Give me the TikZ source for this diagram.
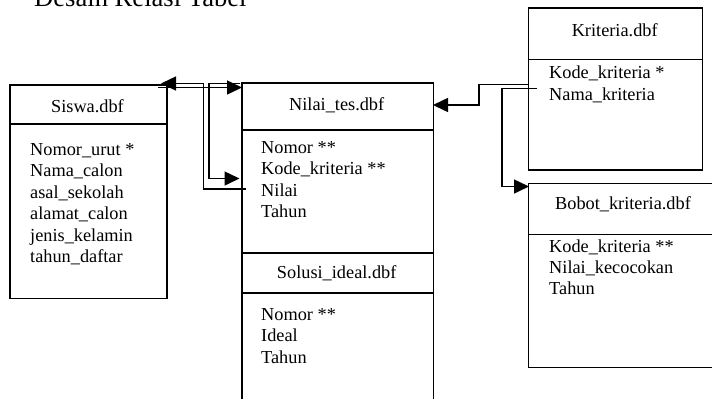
\documentclass[tikz,border=0pt]{standalone}
\usepackage{fontspec}
\setmainfont{Liberation Serif}
\usetikzlibrary{arrows.meta}
\begin{document}
\begin{tikzpicture}[x=1bp,y=-1bp,
  tbl/.style={draw, line width=1.5bp, inner sep=0pt, anchor=north west},
  hdr/.style={anchor=base, inner sep=0pt, font=\fontsize{18.3bp}{22bp}\selectfont},
  attr/.style={anchor=base west, inner sep=0pt, font=\fontsize{18.3bp}{22bp}\selectfont},
  link/.style={line width=1.5bp, -{Triangle[length=15bp,width=14bp]}},
  sep/.style={line width=1.5bp}]
\useasboundingbox (0,0) rectangle (712,398);
\clip (0,0) rectangle (712,398);

% title
\node[anchor=base west, inner sep=0pt, font=\fontsize{26.6bp}{30bp}\selectfont] (title) at (34,6) {Desain Relasi Tabel};

% Siswa
\node[tbl, minimum width=157bp, minimum height=213.5bp] (siswa) at (9,84) {};
\draw[sep] (siswa.west |- 0,124) -- (siswa.east |- 0,124);
\node[hdr] (siswah) at (87.5,112.5) {Siswa.dbf};
\node[attr] (s1) at (30,155) {Nomor\_urut *};
\node[attr] (s2) at (30,176.5) {Nama\_calon};
\node[attr] (s3) at (30,198) {asal\_sekolah};
\node[attr] (s4) at (30,219.5) {alamat\_calon};
\node[attr] (s5) at (30,241) {jenis\_kelamin};
\node[attr] (s6) at (30,262.5) {tahun\_daftar};

% Nilai_tes / Solusi_ideal
\node[tbl, minimum width=191.5bp, minimum height=340bp] (nilai) at (241,82) {};
\draw[sep] (nilai.west |- 0,130) -- (nilai.east |- 0,130);
\draw[sep] (nilai.west |- 0,253) -- (nilai.east |- 0,253);
\draw[sep] (nilai.west |- 0,293) -- (nilai.east |- 0,293);
\node[hdr] (nilaih) at (336.7,110.7) {Nilai\_tes.dbf};
\node[attr] (n1) at (261,153) {Nomor **};
\node[attr] (n2) at (261,174.5) {Kode\_kriteria **};
\node[attr] (n3) at (261,196) {Nilai};
\node[attr] (n4) at (261,217) {Tahun};
\node[hdr] (solh) at (336.7,278.5) {Solusi\_ideal.dbf};
\node[attr] (o1) at (261,320) {Nomor **};
\node[attr] (o2) at (261,341.5) {Ideal};
\node[attr] (o3) at (261,363) {Tahun};

% Kriteria
\node[tbl, minimum width=174bp, minimum height=162bp] (krit) at (527.7,7.3) {};
\draw[sep] (krit.west |- 0,59.3) -- (krit.east |- 0,59.3);
\node[hdr] (krith) at (614.7,36) {Kriteria.dbf};
\node[attr] (k1) at (549,78) {Kode\_kriteria *};
\node[attr] (k2) at (549,100.5) {Nama\_kriteria};

% Bobot
\node[tbl, minimum width=192bp, minimum height=184bp] (bobot) at (527.7,182.7) {};
\draw[sep] (bobot.west |- 0,234.5) -- (bobot.east |- 0,234.5);
\node[hdr] (bobh) at (623,209) {Bobot\_kriteria.dbf};
\node[attr] (b1) at (549,252) {Kode\_kriteria **};
\node[attr] (b2) at (549,273) {Nilai\_kecocokan};
\node[attr] (b3) at (549,294) {Tahun};

% connector coordinates
\coordinate (c1a) at (246,189);
\coordinate (c1b) at (203.5,83.5);
\coordinate (c1e) at (161,83.5);
\coordinate (c2a) at (158,87.5);
\coordinate (c2e) at (242,87.5);
\coordinate (c3a) at (240,83.5);
\coordinate (c3b) at (209,178.5);
\coordinate (c3e) at (239.5,178.5);
\coordinate (c4a) at (527.7,84.5);
\coordinate (c4b) at (479,105);
\coordinate (c4e) at (433,105);
\coordinate (c5a) at (537,88.5);
\coordinate (c5b) at (502,186.5);
\coordinate (c5e) at (529,186.5);

\draw[link] (c1a) -| (c1b) -- (c1e);
\draw[link] (c2a) -- (c2e);
\draw[link] (c3a) -| (c3b) -- (c3e);
\draw[link] (c4a) -| (c4b) -- (c4e);
\draw[link] (c5a) -| (c5b) -- (c5e);
\end{tikzpicture}
\end{document}
